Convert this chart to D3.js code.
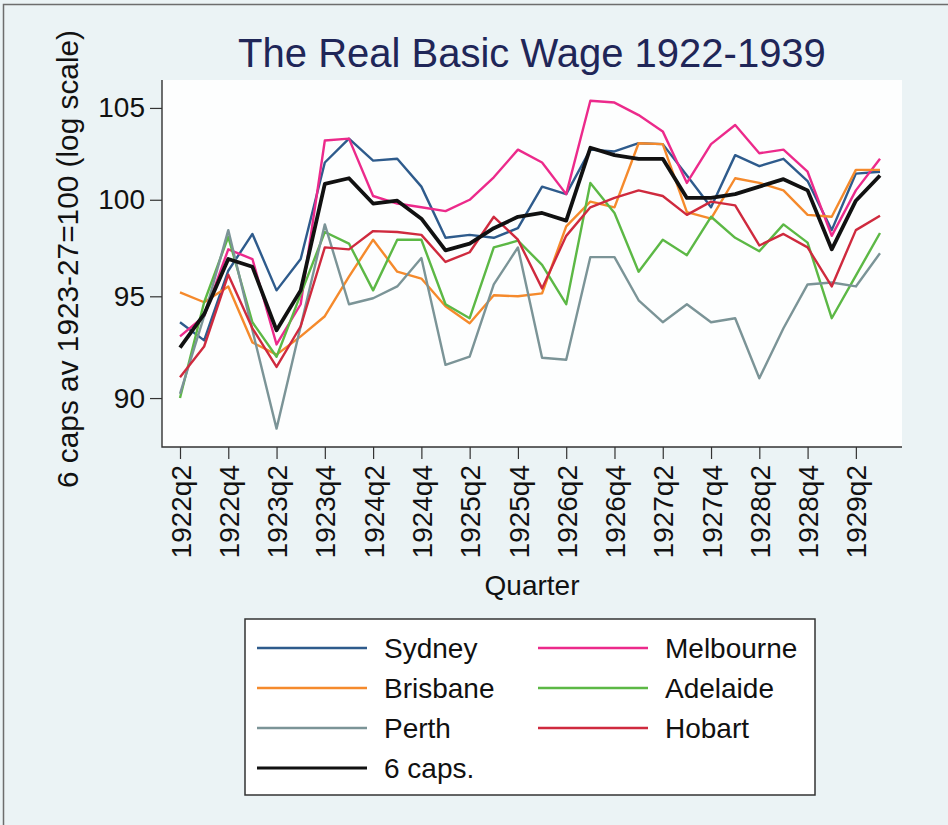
<!DOCTYPE html>
<html lang="en">
<head>
  <meta charset="UTF-8">
  <title>The Real Basic Wage 1922-1939</title>
  <script src="https://d3js.org/d3.v7.min.js"></script>
  <style>
    body { margin: 0; background: #ebf3f5; }
    svg { display: block; font-family: "Liberation Sans", Arial, sans-serif; }
  </style>
</head>
<body>
  <div class="canvas"></div>
  <script>
    const quarters = [
      "1922q2", "1922q3", "1922q4", "1923q1", "1923q2", "1923q3", "1923q4", "1924q1",
      "1924q2", "1924q3", "1924q4", "1925q1", "1925q2", "1925q3", "1925q4", "1926q1",
      "1926q2", "1926q3", "1926q4", "1927q1", "1927q2", "1927q3", "1927q4", "1928q1",
      "1928q2", "1928q3", "1928q4", "1929q1", "1929q2", "1929q3"
    ];
    const xTickLabels = quarters.filter((q, i) => i % 2 === 0);
    const yTicks = [90, 95, 100, 105];

    const sydney = [93.7, 92.8, 96.3, 98.2, 95.3, 96.9, 102.0, 103.3, 102.1, 102.2,
      100.7, 98.0, 98.15, 98.0, 98.5, 100.7, 100.3, 102.7, 102.6, 103.05,
      103.0, 101.3, 99.6, 102.4, 101.8, 102.2, 101.0, 98.4, 101.4, 101.5];
    const melbourne = [93.0, 94.0, 97.4, 96.9, 92.6, 94.6, 103.2, 103.3, 100.2, 99.8,
      99.6, 99.4, 100.0, 101.2, 102.7, 102.0, 100.3, 105.4, 105.3, 104.6,
      103.7, 100.9, 103.0, 104.05, 102.5, 102.7, 101.5, 98.1, 100.5, 102.2];
    const brisbane = [95.2, 94.7, 95.5, 92.7, 92.1, 93.0, 94.0, 96.0, 97.9, 96.25,
      95.9, 94.5, 93.65, 95.05, 95.0, 95.15, 98.6, 99.9, 99.6, 103.05,
      103.0, 99.35, 99.0, 101.15, 100.9, 100.5, 99.2, 99.1, 101.6, 101.6];
    const adelaide = [90.0, 94.7, 98.05, 93.7, 92.0, 95.1, 98.3, 97.7, 95.3, 97.9,
      97.9, 94.6, 93.9, 97.5, 97.85, 96.6, 94.6, 100.9, 99.3, 96.25,
      97.9, 97.1, 99.1, 98.0, 97.3, 98.7, 97.75, 93.9, 96.05, 98.25];
    const perth = [90.2, 94.0, 98.4, 93.3, 88.55, 93.5, 98.7, 94.6, 94.9, 95.5,
      96.95, 91.6, 92.0, 95.6, 97.5, 91.95, 91.85, 97.0, 97.0, 94.8,
      93.7, 94.6, 93.7, 93.9, 90.95, 93.4, 95.6, 95.7, 95.5, 97.2];
    const hobart = [91.0, 92.5, 96.1, 93.4, 91.5, 93.5, 97.5, 97.4, 98.35, 98.3,
      98.15, 96.75, 97.25, 99.1, 97.9, 95.4, 98.1, 99.6, 100.1, 100.5,
      100.2, 99.2, 99.9, 99.7, 97.6, 98.2, 97.5, 95.5, 98.4, 99.15];
    const sixCaps = [92.45, 94.1, 96.9, 96.5, 93.3, 95.3, 100.85, 101.15, 99.8, 99.95,
      99.0, 97.35, 97.7, 98.5, 99.1, 99.3, 98.9, 102.8, 102.4, 102.2,
      102.2, 100.1, 100.1, 100.3, 100.7, 101.1, 100.5, 97.4, 99.95, 101.3];

    const series = [
      { name: "Sydney", values: sydney, color: "#2e5b8c", width: 2.4 },
      { name: "Melbourne", values: melbourne, color: "#ec2a8b", width: 2.4 },
      { name: "Brisbane", values: brisbane, color: "#f58a2c", width: 2.4 },
      { name: "Adelaide", values: adelaide, color: "#5cb845", width: 2.4 },
      { name: "Perth", values: perth, color: "#7b9497", width: 2.4 },
      { name: "Hobart", values: hobart, color: "#cf2a3e", width: 2.4 },
      { name: "6 caps.", values: sixCaps, color: "#111111", width: 3.8 }
    ];
    // legend order: two columns, 6 caps alone at the bottom
    const legendOrder = ["Sydney", "Melbourne", "Brisbane", "Adelaide", "Perth", "Hobart", "6 caps."];

    const width = 948, height = 825;
    const plot = { left: 162, right: 902, top: 80, bottom: 447 };

    const svg = d3.select(".canvas").append("svg")
      .attr("width", width)
      .attr("height", height);

    svg.append("rect").attr("width", width).attr("height", height).attr("fill", "#ebf3f5");
    // outer frame (left and top edges)
    svg.append("path").attr("d", "M3.5,825 V4.5 H948").attr("fill", "none")
      .attr("stroke", "#6d6d6d").attr("stroke-width", 1.5);

    svg.append("rect")
      .attr("x", plot.left).attr("y", plot.top)
      .attr("width", plot.right - plot.left).attr("height", plot.bottom - plot.top)
      .attr("fill", "#fdfefe");

    const x = d3.scalePoint().domain(quarters).range([180, 880]);
    const y = d3.scaleLog().domain([87.69, 106.57]).range([plot.bottom, plot.top]);

    // title
    svg.append("text")
      .attr("x", 532).attr("y", 67)
      .attr("text-anchor", "middle")
      .attr("font-size", 40)
      .attr("fill", "#1f2658")
      .text("The Real Basic Wage 1922-1939");

    // axes
    const yAxis = d3.axisLeft(y).tickValues(yTicks).tickFormat(d3.format("d"))
      .tickSize(12).tickPadding(5);
    const yAxisGroup = svg.append("g")
      .attr("transform", `translate(${plot.left},0)`)
      .call(yAxis);

    const xAxis = d3.axisBottom(x).tickValues(xTickLabels).tickSize(12).tickPadding(5);
    const xAxisGroup = svg.append("g")
      .attr("transform", `translate(0,${plot.bottom})`)
      .call(xAxis);

    [yAxisGroup, xAxisGroup].forEach(g => {
      g.select(".domain").remove();
      g.selectAll(".tick line").attr("stroke", "#333").attr("stroke-width", 1.2);
      g.selectAll("text").attr("font-size", 28).attr("fill", "#111")
        .attr("font-family", "Liberation Sans, Arial, sans-serif");
    });

    xAxisGroup.selectAll("text")
      .attr("transform", "rotate(-90)")
      .attr("text-anchor", "end")
      .attr("x", -18)
      .attr("y", 0)
      .attr("dy", "0.36em");

    svg.append("path")
      .attr("d", `M${plot.left},${plot.top} V${plot.bottom} H${plot.right}`)
      .attr("fill", "none").attr("stroke", "#333").attr("stroke-width", 1.4);

    // axis titles
    svg.append("text")
      .attr("transform", "translate(78,259) rotate(-90)")
      .attr("text-anchor", "middle")
      .attr("font-size", 29.8)
      .attr("fill", "#111")
      .text("6 caps av 1923-27=100 (log scale)");

    svg.append("text")
      .attr("x", 532).attr("y", 595)
      .attr("text-anchor", "middle")
      .attr("font-size", 28)
      .attr("fill", "#111")
      .text("Quarter");

    // lines
    const line = d3.line()
      .x((d, i) => x(quarters[i]))
      .y(d => y(d));

    svg.append("g").selectAll("path")
      .data(series)
      .join("path")
      .attr("fill", "none")
      .attr("stroke", d => d.color)
      .attr("stroke-width", d => d.width)
      .attr("stroke-linejoin", "round")
      .attr("d", d => line(d.values));

    // legend
    const legend = svg.append("g");
    legend.append("rect")
      .attr("x", 245).attr("y", 619).attr("width", 570).attr("height", 176)
      .attr("fill", "#ffffff").attr("stroke", "#333").attr("stroke-width", 1.5);

    const items = legend.selectAll("g.item")
      .data(legendOrder.map(n => series.find(s => s.name === n)))
      .join("g")
      .attr("class", "item")
      .attr("transform", (d, i) => `translate(${i % 2 === 0 ? 257 : 538},${648 + Math.floor(i / 2) * 40})`);

    items.append("line")
      .attr("x1", 0).attr("x2", 110)
      .attr("stroke", d => d.color)
      .attr("stroke-width", d => d.name === "6 caps." ? 3.2 : 2.4);

    items.append("text")
      .attr("x", 127).attr("dy", "0.36em")
      .attr("font-size", 28)
      .attr("fill", "#111")
      .text(d => d.name);
  </script>
</body>
</html>
